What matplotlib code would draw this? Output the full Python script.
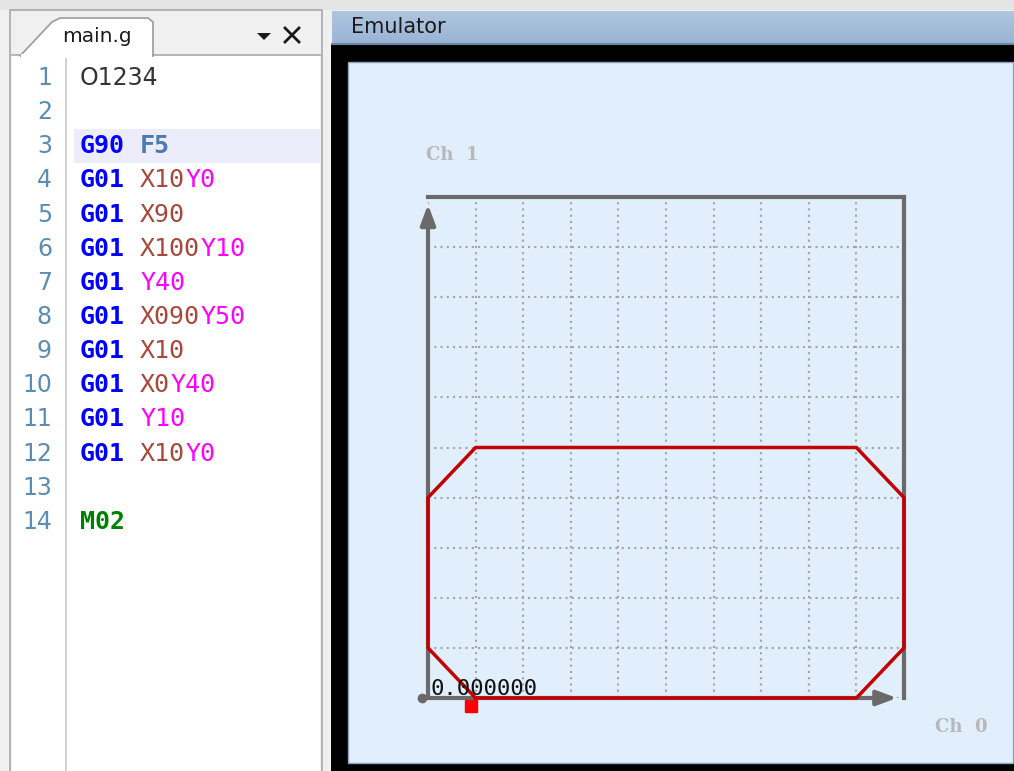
import matplotlib
matplotlib.use("Agg")
import matplotlib.pyplot as plt
import matplotlib.patches as mpatches
import matplotlib.transforms as mtransforms
import numpy as np

# --- data -----------------------------------------------------------------
# tool path from the G-code program (X, Y in machine units)
path_x = [10, 90, 100, 100, 90, 10, 0, 0, 10]
path_y = [0, 0, 10, 40, 50, 50, 40, 10, 0]

# grid / axis range of the emulator
axis_min, axis_max, grid_step = 0, 100, 10

# editor lines, as (token, kind) pairs
code_lines = [
    [("O1234", "plain")],
    [],
    [("G90", "gcode"), (" ", "plain"), ("F5", "feed")],
    [("G01", "gcode"), (" ", "plain"), ("X10", "x"), ("Y0", "y")],
    [("G01", "gcode"), (" ", "plain"), ("X90", "x")],
    [("G01", "gcode"), (" ", "plain"), ("X100", "x"), ("Y10", "y")],
    [("G01", "gcode"), (" ", "plain"), ("Y40", "y")],
    [("G01", "gcode"), (" ", "plain"), ("X090", "x"), ("Y50", "y")],
    [("G01", "gcode"), (" ", "plain"), ("X10", "x")],
    [("G01", "gcode"), (" ", "plain"), ("X0", "x"), ("Y40", "y")],
    [("G01", "gcode"), (" ", "plain"), ("Y10", "y")],
    [("G01", "gcode"), (" ", "plain"), ("X10", "x"), ("Y0", "y")],
    [],
    [("M02", "mcode")],
]
highlight_line = 3
readout = "0.000000"
channel_labels = ["Ch  0", "Ch  1"]

# --- styles -----------------------------------------------------------------
token_color = {"plain": "#333333", "gcode": "#0000ff", "feed": "#4a7ab0",
               "x": "#a8483a", "y": "#ff00ff", "mcode": "#008000"}
W, H = 1014, 771

fig = plt.figure(figsize=(W / 100, H / 100), dpi=100)
bg = fig.add_axes([0, 0, 1, 1])
bg.set_xlim(0, W)
bg.set_ylim(H, 0)
bg.axis("off")


def rect(x0, y0, x1, y1, fc, ec="none", lw=0, z=1):
    bg.add_patch(mpatches.Rectangle((x0, y0), x1 - x0, y1 - y0, facecolor=fc,
                                    edgecolor=ec, linewidth=lw, zorder=z))


# window background
rect(0, 0, W, H, "#f0f0f0", z=0)
rect(0, 0, W, 10, "#e4e4e4", z=0.5)

# --- editor panel ---------------------------------------------------------------
rect(10, 10, 322, H + 2, "#f0f0f0", ec="#a8a8a8", lw=1.2)
rect(12, 55, 320, H + 2, "white", z=1.5)
bg.plot([12, 320], [55, 55], color="#a8a8a8", lw=1.2, zorder=2)
tab = mpatches.Polygon([(20, 56), (52, 22), (60, 18), (148, 18), (153, 22),
                        (153, 56)], closed=True, facecolor="white",
                       edgecolor="#9a9a9a", linewidth=1.2, zorder=2.5)
bg.add_patch(tab)
rect(21, 54, 152, 58, "white", z=2.6)
bg.text(62, 37, "main.g", fontsize=14.5, color="#1a1a1a",
        va="center", ha="left", family="DejaVu Sans", zorder=3)
bg.add_patch(mpatches.Polygon([(257, 33), (271, 33), (264, 40)], closed=True,
                              facecolor="#1a1a1a", zorder=3))
bg.plot([285, 299], [28, 42], color="#1a1a1a", lw=2, zorder=3)
bg.plot([285, 299], [42, 28], color="#1a1a1a", lw=2, zorder=3)
bg.plot([66, 66], [56, H + 2], color="#c8c8c8", lw=1.2, zorder=2)

code_size = 18
line_y0, line_dy = 78, 34.15
char_w = code_size * 100 / 72 * 0.602
hy = line_y0 + (highlight_line - 1) * line_dy
rect(74, hy - 17, 320, hy + 17, "#ececfa", z=1.8)
for i, toks in enumerate(code_lines, start=1):
    y = line_y0 + (i - 1) * line_dy
    bg.text(52, y, str(i), fontsize=17, color="#5b8cb4", ha="right",
            va="center", family="DejaVu Sans", zorder=3)
    col = 0
    for tok, kind in toks:
        if kind == "plain" and tok.strip():
            bg.text(80, y, tok, fontsize=17, color=token_color[kind],
                    ha="left", va="center", family="DejaVu Sans", zorder=3)
        elif tok.strip():
            bold = kind in ("gcode", "feed", "mcode")
            bg.text(80 + col * char_w, y, tok, fontsize=code_size,
                    color=token_color[kind], ha="left", va="center",
                    family="DejaVu Sans Mono",
                    fontweight="bold" if bold else "normal", zorder=3)
        col += len(tok)

# --- emulator panel ---------------------------------------------------------------
grad = np.linspace(0, 1, 64).reshape(-1, 1)
top_c = np.array([0xaf, 0xc6, 0xe0]) / 255
bot_c = np.array([0x9a, 0xb4, 0xd4]) / 255
bg.imshow(top_c + grad[..., None] * (bot_c - top_c), extent=(332, W, 43, 11),
          aspect="auto", zorder=1, interpolation="bilinear")
bg.set_xlim(0, W)
bg.set_ylim(H, 0)
bg.plot([332, W], [43.5, 43.5], color="#6e86a6", lw=1.5, zorder=2)
bg.text(351, 27, "Emulator", fontsize=15, color="#1a1a1a", va="center",
        ha="left", family="DejaVu Sans", zorder=3)
rect(331, 44, W, H, "black", z=1)
rect(348, 62, W - 1, 763, "#e1eefc", ec="#8fa4bc", lw=1, z=1.5)
bg.text(935, 727, channel_labels[0], fontsize=13, color="#b8b8b8",
        fontweight="bold", family="DejaVu Serif", va="center", zorder=3)
bg.text(426, 155, channel_labels[1], fontsize=13, color="#b8b8b8",
        fontweight="bold", family="DejaVu Serif", va="center", zorder=3)

# plot area
ax = fig.add_axes([428 / W, (H - 698) / H, 476 / W, 501 / H])
ax.set_xlim(axis_min, axis_max)
ax.set_ylim(axis_min, axis_max)
ax.patch.set_visible(False)
ticks = np.arange(axis_min, axis_max + 1, grid_step)
ax.set_xticks(ticks)
ax.set_yticks(ticks)
ax.tick_params(length=0, labelbottom=False, labelleft=False)
ax.grid(True, color="#a4a4a4", linestyle=(0, (1, 2)), linewidth=1.5)
for side in ("left", "bottom"):
    ax.spines[side].set_visible(False)
for side in ("top", "right"):
    ax.spines[side].set_color("#6a6a6a")
    ax.spines[side].set_linewidth(3)

arrow_kw = dict(arrowstyle="-|>,head_length=1.2,head_width=0.45",
                color="#6a6a6a", lw=3, shrinkA=0, shrinkB=0)
ax.annotate("", xy=(0, 0.985), xytext=(0, 0), xycoords="axes fraction",
            arrowprops=arrow_kw, zorder=4)
ax.annotate("", xy=(0.985, 0), xytext=(-0.005, 0), xycoords="axes fraction",
            arrowprops=arrow_kw, zorder=4)
ax.plot([axis_min], [axis_min], "o", color="#6a6a6a", ms=6, clip_on=False,
        zorder=4, transform=mtransforms.offset_copy(ax.transData, fig, x=-6,
                                                    units="dots"))

ax.plot(path_x, path_y, color="#c40000", lw=2.5, clip_on=False, zorder=5)
ax.plot(path_x[-1], path_y[-1], "s", color="#ff0000", ms=9, clip_on=False,
        zorder=6, transform=mtransforms.offset_copy(ax.transData, fig, x=-5,
                                                    y=-8, units="dots"))

ax.text(axis_min, axis_min, readout, fontsize=16, color="#111111",
        family="DejaVu Sans Mono", ha="left", va="bottom", zorder=7,
        transform=mtransforms.offset_copy(ax.transData, fig, x=2, y=-1,
                                          units="dots"))

fig.savefig("out.png", dpi=100)
